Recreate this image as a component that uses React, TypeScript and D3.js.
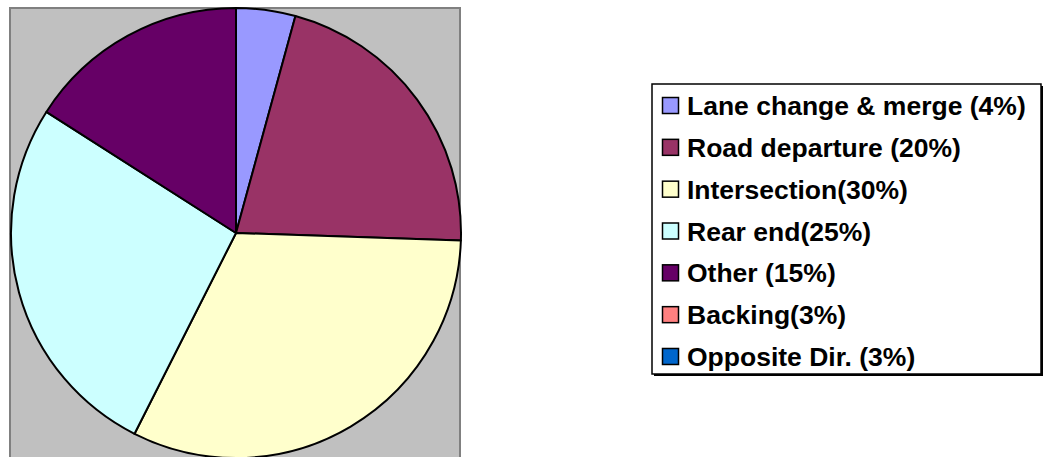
import React from "react";
import * as d3 from "d3";

const categories = [
  "Lane change & merge (4%)",
  "Road departure (20%)",
  "Intersection(30%)",
  "Rear end(25%)",
  "Other (15%)",
  "Backing(3%)",
  "Opposite Dir. (3%)",
];
const values = [4, 20, 30, 25, 15, 0, 0];
const colors = ["#9999FF", "#993366", "#FFFFCC", "#CCFFFF", "#660066", "#FF8080", "#0066CC"];

export default function App() {
  const W = 1050, H = 457;
  const cx = 236, cy = 233, r = 225;
  const pie = d3.pie<number>().sort(null).value((d) => d)(values);
  const arc = d3.arc<d3.PieArcDatum<number>>().innerRadius(0).outerRadius(r);
  const legendY = d3.scaleBand<number>().domain(d3.range(categories.length)).range([84.6, 377.4]);
  return (
    <svg width={W} height={H} style={{ position: "absolute", left: 0, top: 0 }}>
      <rect x={0} y={0} width={W} height={H} fill="#fff" />
      <rect x={10} y={8} width={450} height={460} fill="#C0C0C0" stroke="#808080" strokeWidth={2} />
      <g transform={`translate(${cx},${cy})`}>
        {pie.map((p, i) =>
          p.value > 0 ? (
            <path key={i} d={arc(p) || ""} fill={colors[i]} stroke="#000" strokeWidth={2} strokeLinejoin="round" />
          ) : null
        )}
      </g>
      <rect x={654} y={86} width={389} height={290} fill="#000" />
      <rect x={652} y={84} width={389} height={290} fill="#fff" stroke="#000" strokeWidth={1.5} />
      {categories.map((c, i) => {
        const yc = (legendY(i) || 0) + legendY.bandwidth() / 2;
        return (
          <g key={i}>
            <rect x={662.5} y={yc - 8} width={16} height={16} fill={colors[i]} stroke="#000" strokeWidth={1.5} />
            <text x={687} y={yc} dy="0.36em" fontFamily="Liberation Sans, Arial, sans-serif" fontWeight="bold" fontSize={26.5} fill="#000">
              {c}
            </text>
          </g>
        );
      })}
    </svg>
  );
}
